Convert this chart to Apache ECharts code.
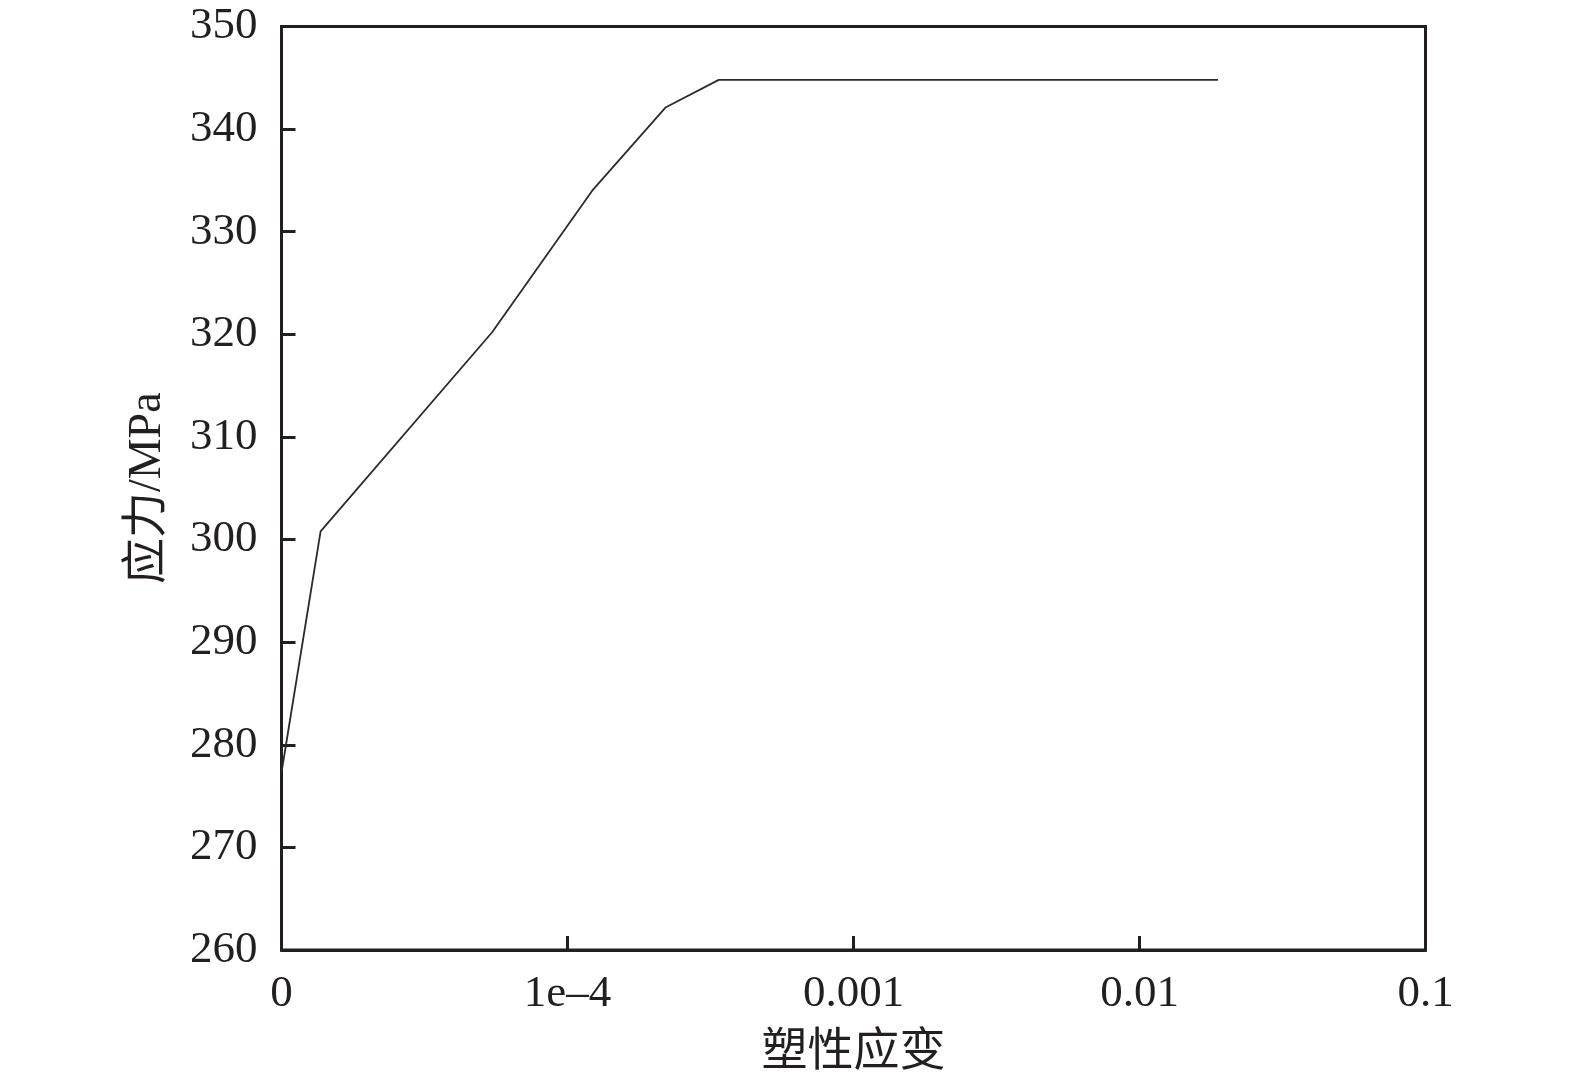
<!DOCTYPE html>
<html>
<head>
<meta charset="utf-8">
<script src="https://cdn.jsdelivr.net/npm/echarts@6/dist/echarts.min.js"></script>
<style>html,body{margin:0;padding:0;background:#fff}#c{width:1575px;height:1080px}</style>
</head>
<body>
<div id="c"></div>
<script>
const strain = [1e-5, 1.37e-5, 5.45e-5, 1.22e-4, 2.2e-4, 3.38e-4, 0.0188];
const stress = [277.3, 300.8, 320.2, 334.0, 342.1, 344.8, 344.8];
const xTicks = {"-5": "0", "-4": "1e\u20134", "-3": "0.001", "-2": "0.01", "-1": "0.1"};
const yTicks = [260, 270, 280, 290, 300, 310, 320, 330, 340, 350];

const ink = '#231f20';
const font = '"Liberation Serif", "Noto Sans CJK SC", serif';
const chart = echarts.init(document.getElementById('c'));
chart.setOption({
  backgroundColor: '#fff',
  animation: false,
  grid: {left: 281.5, top: 26.5, right: 149.5, bottom: 130, show: true, borderColor: ink, borderWidth: 3,
         backgroundColor: 'transparent', containLabel: false, outerBoundsMode: 'none'},
  xAxis: {
    type: 'log', logBase: 10, min: 1e-5, max: 0.1,
    name: '塑性应变', nameLocation: 'middle', nameGap: 80,
    nameTextStyle: {fontFamily: font, fontSize: 46, color: ink},
    axisLine: {lineStyle: {color: ink, width: 3}},
    axisTick: {inside: true, length: 14, lineStyle: {color: ink, width: 3}},
    minorTick: {show: false},
    splitLine: {show: false},
    axisLabel: {
      fontFamily: font, fontSize: 45, color: ink, margin: 22,
      formatter: function (v) { const e = Math.round(Math.log10(v)); return xTicks[String(e)] || ''; }
    }
  },
  yAxis: {
    type: 'value', min: yTicks[0], max: yTicks[yTicks.length - 1], interval: 10,
    name: '应力/MPa', nameLocation: 'middle', nameGap: 111,
    nameTextStyle: {fontFamily: font, fontSize: 46, color: ink},
    axisLine: {show: true, lineStyle: {color: ink, width: 3}},
    axisTick: {show: true, inside: true, length: 14, lineStyle: {color: ink, width: 3}},
    splitLine: {show: false},
    axisLabel: {fontFamily: font, fontSize: 45, color: ink, margin: 24}
  },
  series: [{
    type: 'line',
    data: strain.map((x, i) => [x, stress[i]]),
    showSymbol: false,
    symbol: 'none',
    lineStyle: {color: '#2b2b2b', width: 1.8},
    clip: false
  }]
});
</script>
</body>
</html>
